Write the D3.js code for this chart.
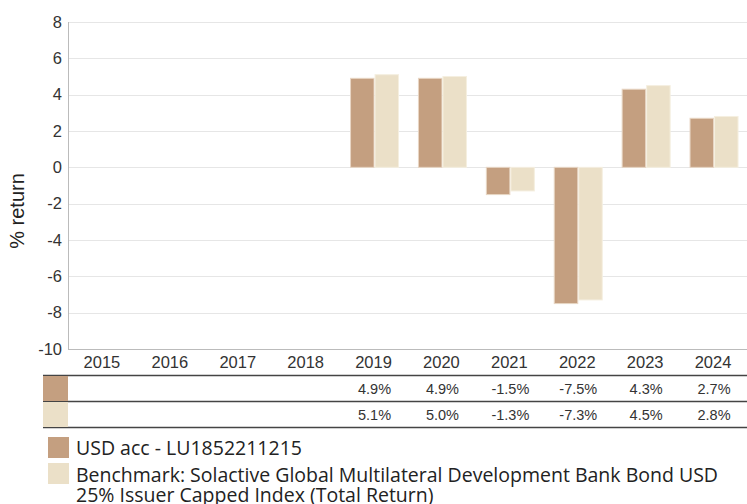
<!DOCTYPE html>
<html><head><meta charset="utf-8">
<script src="https://cdn.jsdelivr.net/npm/d3@7"></script>
<style>body{margin:0;background:#fff}svg{display:block}</style>
</head><body>
<svg id="c" width="747" height="504"></svg>
<script>
const years = ["2015","2016","2017","2018","2019","2020","2021","2022","2023","2024"];
const fundValues = [null,null,null,null,4.9,4.9,-1.5,-7.5,4.3,2.7];
const benchValues = [null,null,null,null,5.1,5.0,-1.3,-7.3,4.5,2.8];
const yTicks = [8,6,4,2,0,-2,-4,-6,-8,-10];
const seriesNames = ["USD acc - LU1852211215","Benchmark: Solactive Global Multilateral Development Bank Bond USD 25% Issuer Capped Index (Total Return)"];
const seriesColors = ["#c49f80","#ebe0c8"];

const svg = d3.select("#c");
const L = 68, R = 747, T = 22, B = 349;
const x = d3.scaleBand().domain(years).range([L, R]);
const y = d3.scaleLinear().domain([-10, 8]).range([B, T]);
const inner = d3.scaleBand().domain([0,1]).range([0, 48]).paddingInner(0.04);
const F = "Liberation Sans, Arial, sans-serif";

// grid
svg.append("g").selectAll("line").data(yTicks).join("line")
  .attr("x1", L).attr("x2", R).attr("y1", d => Math.round(y(d))+0.5).attr("y2", d => Math.round(y(d))+0.5)
  .attr("stroke", "#e6e6e6").attr("stroke-width", 1);

// y tick labels
svg.append("g").selectAll("text").data(yTicks).join("text")
  .attr("x", 62).attr("y", d => y(d)).attr("dy", "0.35em").attr("text-anchor", "end")
  .attr("font-family", F).attr("font-size", 16.5).attr("fill", "#333")
  .text(d => d);

// axis lines
svg.append("line").attr("x1", L+0.5).attr("x2", L+0.5).attr("y1", T).attr("y2", B).attr("stroke", "#bbb");
svg.append("line").attr("x1", L).attr("x2", R).attr("y1", B+0.5).attr("y2", B+0.5).attr("stroke", "#bbb");

// y title
svg.append("text").attr("transform", "translate(24,211) rotate(-90)").attr("text-anchor", "middle")
  .attr("font-family", F).attr("font-size", 20).attr("fill", "#222")
  .text("% return");

// bars
const series = [fundValues, benchValues];
series.forEach((vals, si) => {
  svg.append("g").selectAll("rect").data(years.map((yr, i) => ({yr, v: vals[i]})).filter(d => d.v !== null)).join("rect")
    .attr("x", d => x(d.yr) + (x.bandwidth() - 48)/2 + inner(si) + 1)
    .attr("width", inner.bandwidth())
    .attr("y", d => y(Math.max(0, d.v)))
    .attr("height", d => Math.abs(y(d.v) - y(0)))
    .attr("fill", seriesColors[si])
    .attr("stroke", si === 0 ? "#e8d6c4" : "#f5efe0").attr("stroke-width", 1);
});

// x labels
svg.append("g").selectAll("text").data(years).join("text")
  .attr("x", d => x(d) + x.bandwidth()/2).attr("y", 368).attr("text-anchor", "middle")
  .attr("font-family", F).attr("font-size", 16.5).attr("fill", "#333")
  .text(d => d);

// table
const rowTop = [376, 402];
[375.5, 401.5, 427.5].forEach(yy => {
  svg.append("line").attr("x1", 43).attr("x2", R).attr("y1", yy).attr("y2", yy).attr("stroke", "#444").attr("stroke-width", 1.5);
});
series.forEach((vals, si) => {
  svg.append("rect").attr("x", 43).attr("y", rowTop[si]).attr("width", 25).attr("height", 25).attr("fill", seriesColors[si]);
  svg.append("g").selectAll("text").data(years.map((yr, i) => ({yr, v: vals[i]})).filter(d => d.v !== null)).join("text")
    .attr("x", d => x(d.yr) + x.bandwidth()/2 + 1).attr("y", rowTop[si] + 13).attr("dy", "0.35em").attr("text-anchor", "middle")
    .attr("font-family", F).attr("font-size", 14.5).attr("fill", "#333")
    .text(d => d.v.toFixed(1) + "%");
});

// legend
const LF = "Open Sans, sans-serif";
const lg = svg.append("g");
lg.append("rect").attr("x", 48).attr("y", 437).attr("width", 21).attr("height", 21).attr("fill", seriesColors[0]);
lg.append("text").attr("x", 76).attr("y", 455).attr("font-family", LF).attr("font-size", 19.5).attr("fill", "#222").text(seriesNames[0]);
lg.append("rect").attr("x", 48).attr("y", 463).attr("width", 21).attr("height", 21).attr("fill", seriesColors[1]);
const t2 = lg.append("text").attr("font-family", LF).attr("font-size", 19.5).attr("fill", "#222");
t2.append("tspan").attr("x", 76).attr("y", 482).text("Benchmark: Solactive Global Multilateral Development Bank Bond USD");
t2.append("tspan").attr("x", 76).attr("y", 502).text("25% Issuer Capped Index (Total Return)");
</script>
</body></html>
